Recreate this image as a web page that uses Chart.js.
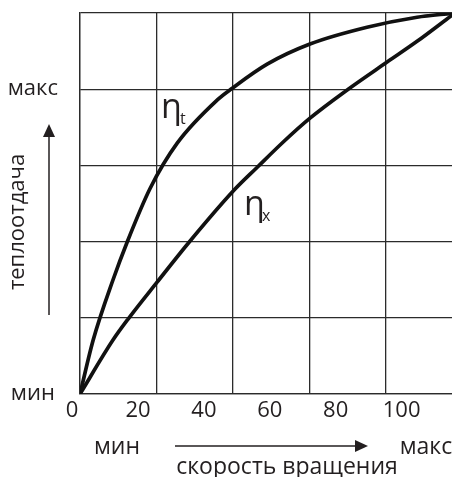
<!DOCTYPE html>
<html>
<head>
<meta charset="utf-8">
<script src="https://cdn.jsdelivr.net/npm/chart.js@4"></script>
<style>
  html, body { margin: 0; padding: 0; background: #fff; overflow: hidden; }
  .wrap { width: 452px; height: 477px; position: relative; }
</style>
</head>
<body>
<div class="wrap"><canvas id="heatChart"></canvas></div>
<script>
// x in units of the printed scale (0..100), y: 0 = мин, 1 = макс
const xTickLabels = [0, 20, 40, 60, 80, 100];
const etaT_x = [2.4, 6.4, 12.4, 16.7, 23.7, 31.9, 44.0, 48.6, 59.2, 72.2, 89.5, 104.7, 115.3];
const etaT_y = [0, 0.177, 0.374, 0.498, 0.675, 0.823, 0.964, 1.003, 1.082, 1.148, 1.203, 1.236, 1.249];
const etaX_x = [2.4, 12.4, 17.0, 25.8, 35.5, 48.9, 56.2, 64.0, 72.2, 83.8, 95.6, 104.7, 115.3];
const etaX_y = [0, 0.177, 0.246, 0.367, 0.498, 0.666, 0.744, 0.826, 0.905, 1.0, 1.089, 1.157, 1.243];
const gridCols = [0, 1, 2, 3, 4];

const ink = '#231f20';
const gridInk = '#2b2b2b';
const font = '"Open Sans", "Noto Sans", sans-serif';

function pts(xs, ys) {
  return xs.map((x, i) => ({ x: x, y: ys[i] }));
}

// titles and arrows around the plot
const decor = {
  id: 'decor',
  afterDraw(chart) {
    const c = chart.ctx;
    c.save();
    c.fillStyle = ink;
    c.strokeStyle = ink;
    c.lineWidth = 1.5;

    // y title + arrow
    c.font = '22px ' + font;
    c.textAlign = 'center';
    c.textBaseline = 'middle';
    c.save();
    c.translate(18, 222);
    c.rotate(-Math.PI / 2);
    c.fillText('теплоотдача', 0, 0);
    c.restore();
    c.beginPath();
    c.moveTo(49, 315); c.lineTo(49, 136);
    c.stroke();
    c.beginPath();
    c.moveTo(43, 137); c.lineTo(55, 137); c.lineTo(49, 124);
    c.closePath(); c.fill();

    // x title + arrow
    c.font = '23px ' + font;
    c.fillText('мин', 117, 447);
    c.fillText('макс', 426, 447);
    c.fillText('скорость вращения', 287, 467);
    c.beginPath();
    c.moveTo(175, 446); c.lineTo(356, 446);
    c.stroke();
    c.beginPath();
    c.moveTo(355, 440); c.lineTo(355, 452); c.lineTo(368, 446);
    c.closePath(); c.fill();

    // curve names
    c.textAlign = 'left';
    c.textBaseline = 'alphabetic';
    c.font = '34px ' + font;
    c.fillText('η', 161, 118);
    c.fillText('η', 244, 215);
    c.font = '16px ' + font;
    c.fillText('t', 180, 124);
    c.fillText('x', 262, 221);
    c.restore();
  }
};

new Chart(document.getElementById('heatChart'), {
  type: 'line',
  data: {
    datasets: [
      {
        label: 'ηt',
        data: pts(etaT_x, etaT_y),
        xAxisID: 'xl',
        borderColor: '#111',
        borderWidth: 3.7,
        pointRadius: 0,
        cubicInterpolationMode: 'monotone',
        fill: false
      },
      {
        label: 'ηx',
        data: pts(etaX_x, etaX_y),
        xAxisID: 'xl',
        borderColor: '#111',
        borderWidth: 3.7,
        pointRadius: 0,
        cubicInterpolationMode: 'monotone',
        fill: false
      }
    ]
  },
  options: {
    responsive: true,
    maintainAspectRatio: false,
    animation: false,
    layout: { padding: { top: 13, right: 0, bottom: 0, left: 0 } },
    plugins: {
      legend: { display: false },
      tooltip: { enabled: false }
    },
    scales: {
      // grid columns
      x: {
        type: 'linear',
        position: 'bottom',
        min: 0,
        max: 372 / 76.5,
        afterBuildTicks: (s) => { s.ticks = gridCols.map(v => ({ value: v })); },
        afterFit: (s) => { s.height = 0; s.paddingLeft = 0; s.paddingRight = 0; },
        ticks: { display: false },
        grid: { color: gridInk, lineWidth: 1.3, drawTicks: false },
        border: { color: gridInk, width: 1.3 }
      },
      // printed tick labels
      xl: {
        type: 'linear',
        position: 'bottom',
        min: 2.4,
        max: 115.3,
        afterBuildTicks: (s) => { s.ticks = xTickLabels.map(v => ({ value: v })); },
        afterFit: (s) => { s.height = 83; s.paddingLeft = 0; s.paddingRight = 0; },
        ticks: {
          autoSkip: false,
          maxRotation: 0,
          padding: 4,
          color: ink,
          font: { family: font, size: 22 }
        },
        grid: { display: false, drawTicks: false },
        border: { display: false }
      },
      y: {
        type: 'linear',
        min: 0,
        max: 1.25,
        afterFit: (s) => { s.width = 80; s.paddingTop = 0; s.paddingBottom = 0; },
        ticks: {
          stepSize: 0.25,
          crossAlign: 'center',
          padding: 22,
          color: ink,
          font: { family: font, size: 22 },
          callback: (v) => v === 0 ? 'мин' : (v === 1 ? 'макс' : '')
        },
        grid: { color: gridInk, lineWidth: 1.3, drawTicks: false },
        border: { color: gridInk, width: 1.3 }
      }
    }
  },
  plugins: [decor]
});
</script>
</body>
</html>
